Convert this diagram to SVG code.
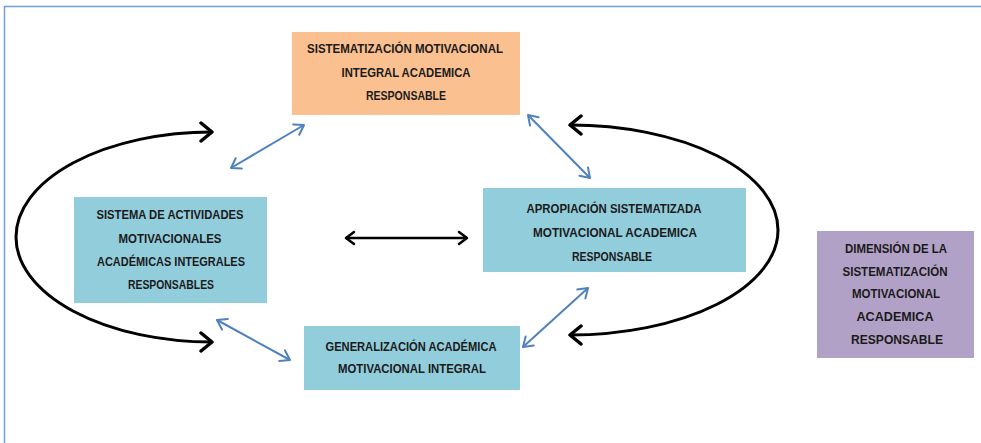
<svg xmlns="http://www.w3.org/2000/svg" width="981" height="443" viewBox="0 0 981 443">
<style>
.t{font-family:"Liberation Sans",Arial,sans-serif;font-weight:bold;font-size:13px;fill:#1a1a1a;text-anchor:middle}
.blk{fill:none;stroke:#000;stroke-width:3}
.blu{fill:none;stroke:#4F81BD;stroke-width:2}
</style>
<defs>
<marker id="hb" markerUnits="userSpaceOnUse" viewBox="-14 -12 16 24" refX="0" refY="0" markerWidth="16" markerHeight="24" orient="auto-start-reverse">
<path d="M-11,-9 L0,0 L-11,9" fill="none" stroke="#000" stroke-width="3.5" stroke-linecap="round" stroke-linejoin="round"/>
</marker>
<marker id="hs" markerUnits="userSpaceOnUse" viewBox="-12 -9 14 18" refX="0" refY="0" markerWidth="14" markerHeight="18" orient="auto-start-reverse">
<path d="M-8,-6 L0,0 L-8,6" fill="none" stroke="#000" stroke-width="2.5" stroke-linecap="round" stroke-linejoin="round"/>
</marker>
<marker id="hl" markerUnits="userSpaceOnUse" viewBox="-12 -9 14 18" refX="0" refY="0" markerWidth="14" markerHeight="18" orient="auto-start-reverse">
<path d="M-9,-6 L0,0 L-9,6" fill="none" stroke="#4F81BD" stroke-width="2" stroke-linecap="round" stroke-linejoin="round"/>
</marker>
</defs>
<g id="frame" fill="none" stroke="#6FA0DC" stroke-width="1.5">
<path d="M4.5,443 L4.5,6.5 L981,6.5"/>
</g>
<g id="connectors">
<path class="blk" d="M212,132 A196 105 0 0 0 212,342" marker-start="url(#hb)" marker-end="url(#hb)"/>
<path class="blk" d="M570,125 A208 105 0 0 1 570,335" marker-start="url(#hb)" marker-end="url(#hb)"/>
<line x1="346" y1="238" x2="467" y2="238" stroke="#000" stroke-width="2.5" marker-start="url(#hs)" marker-end="url(#hs)"/>
<line class="blu" x1="231" y1="168" x2="304" y2="125" marker-start="url(#hl)" marker-end="url(#hl)"/>
<line class="blu" x1="528" y1="115" x2="590" y2="178" marker-start="url(#hl)" marker-end="url(#hl)"/>
<line class="blu" x1="588" y1="288" x2="523" y2="347" marker-start="url(#hl)" marker-end="url(#hl)"/>
<line class="blu" x1="217" y1="320" x2="290" y2="360" marker-start="url(#hl)" marker-end="url(#hl)"/>
</g>
<g id="n-sistematizacion">
<rect x="292" y="32" width="228" height="83" fill="#FAC090"/>
<text class="t" x="405" y="53" textLength="196" lengthAdjust="spacingAndGlyphs">SISTEMATIZACIÓN MOTIVACIONAL</text>
<text class="t" x="406" y="77" textLength="129" lengthAdjust="spacingAndGlyphs">INTEGRAL ACADEMICA</text>
<text class="t" x="406" y="100" textLength="80" lengthAdjust="spacingAndGlyphs">RESPONSABLE</text>
</g>
<g id="n-sistema">
<rect x="74" y="197" width="193" height="106" fill="#92CDDC"/>
<text class="t" x="170" y="219" textLength="147" lengthAdjust="spacingAndGlyphs">SISTEMA DE ACTIVIDADES</text>
<text class="t" x="170" y="243" textLength="103" lengthAdjust="spacingAndGlyphs">MOTIVACIONALES</text>
<text class="t" x="171" y="266" textLength="148" lengthAdjust="spacingAndGlyphs">ACADÉMICAS INTEGRALES</text>
<text class="t" x="171" y="289" textLength="86" lengthAdjust="spacingAndGlyphs">RESPONSABLES</text>
</g>
<g id="n-apropiacion">
<rect x="483" y="188" width="263" height="84" fill="#92CDDC"/>
<text class="t" x="614" y="213" textLength="175" lengthAdjust="spacingAndGlyphs">APROPIACIÓN SISTEMATIZADA</text>
<text class="t" x="615" y="237" textLength="164" lengthAdjust="spacingAndGlyphs">MOTIVACIONAL ACADEMICA</text>
<text class="t" x="612" y="261" textLength="80" lengthAdjust="spacingAndGlyphs">RESPONSABLE</text>
</g>
<g id="n-generalizacion">
<rect x="304" y="326" width="216" height="64" fill="#92CDDC"/>
<text class="t" x="411" y="351" textLength="171" lengthAdjust="spacingAndGlyphs">GENERALIZACIÓN ACADÉMICA</text>
<text class="t" x="412" y="373" textLength="148" lengthAdjust="spacingAndGlyphs">MOTIVACIONAL INTEGRAL</text>
</g>
<g id="n-dimension">
<rect x="817" y="231" width="157" height="127" fill="#B2A1C7"/>
<text class="t" x="896" y="253" textLength="102" lengthAdjust="spacingAndGlyphs">DIMENSIÓN DE LA</text>
<text class="t" x="895" y="276" textLength="105" lengthAdjust="spacingAndGlyphs">SISTEMATIZACIÓN</text>
<text class="t" x="896" y="298" textLength="88" lengthAdjust="spacingAndGlyphs">MOTIVACIONAL</text>
<text class="t" x="895" y="321" textLength="77" lengthAdjust="spacingAndGlyphs">ACADEMICA</text>
<text class="t" x="897" y="344" textLength="92" lengthAdjust="spacingAndGlyphs">RESPONSABLE</text>
</g>
</svg>
